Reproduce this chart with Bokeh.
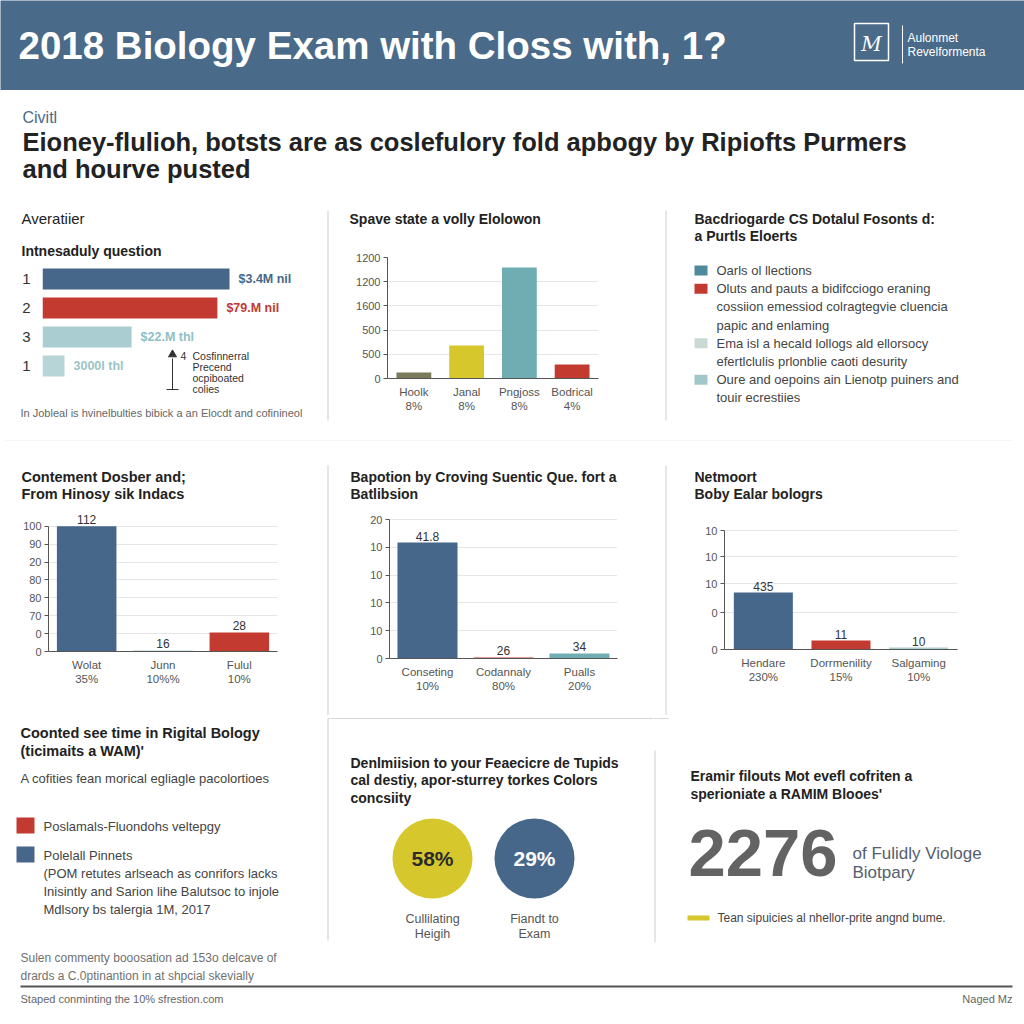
from bokeh.plotting import figure
from bokeh.layouts import column, row
from bokeh.models import Range1d, FactorRange, FixedTicker
from bokeh.core.properties import value
from bokeh.embed import file_html
from bokeh.resources import INLINE

# ---------------- data ----------------
header_title = "2018 Biology Exam with Closs with, 1?"
brand_lines = ["Aulonmet", "Revelformenta"]
kicker = "Civitl"
subtitle_lines = ["Eioney-flulioh, botsts are as coslefulory fold apbogy by Ripiofts Purmers",
                  "and hourve pusted"]

q_section = "Averatiier"
q_title = "Intnesaduly question"
q_ranks = ["1", "2", "3", "1"]
q_values = [34.0, 31.8, 16.2, 4.0]
q_value_labels = ["$3.4M nil", "$79.M nil", "$22.M thl", "3000l thl"]
q_note_number = "4"
q_note_lines = ["Cosfinnerral", "Precend", "ocpiboated", "colies"]
q_footnote = "In Jobleal is hvinelbulties bibick a an Elocdt and cofinineol"

s_title = "Spave state a volly Elolowon"
s_cats = ["Hoolk", "Janal", "Pngjoss", "Bodrical"]
s_pcts = ["8%", "8%", "8%", "4%"]
s_values = [62, 340, 1147, 145]
s_ticks = [0, 250, 500, 750, 1000, 1250]
s_tick_labels = ["0", "500", "500", "1600", "1200", "1200"]

lg_title = ["Bacdriogarde CS Dotalul Fosonts d:", "a Purtls Eloerts"]
lg_items = [["Oarls ol llections"],
            ["Oluts and pauts a bidifcciogo eraning", "cossiion emessiod colragtegvie cluencia",
             "papic and enlaming"],
            ["Ema isl a hecald lollogs ald ellorsocy", "efertlclulis prlonblie caoti desurity"],
            ["Oure and oepoins ain Lienotp puiners and", "touir ecrestiies"]]

a_title = ["Contement Dosber and;", "From Hinosy sik Indacs"]
a_cats = ["Wolat", "Junn", "Fulul"]
a_pcts = ["35%", "10%%", "10%"]
a_values = [112, 1.0, 17]
a_value_labels = ["112", "16", "28"]
a_ticks = [0, 16, 32, 48, 64, 80, 96, 112]
a_tick_labels = ["0", "0", "70", "80", "80", "20", "90", "100"]

b_title = ["Bapotion by Croving Suentic Que. fort a", "Batlibsion"]
b_cats = ["Conseting", "Codannaly", "Pualls"]
b_pcts = ["10%", "80%", "20%"]
b_values = [41.7, 0.4, 1.8]
b_value_labels = ["41.8", "26", "34"]
b_ticks = [0, 10, 20, 30, 40, 50]
b_tick_labels = ["0", "10", "10", "10", "10", "20"]

c_title = ["Netmoort", "Boby Ealar bologrs"]
c_cats = ["Hendare", "Dorrmenility", "Salgaming"]
c_pcts = ["230%", "15%", "10%"]
c_values = [5.7, 0.9, 0.2]
c_value_labels = ["435", "11", "10"]
c_ticks = [0, 3.7, 6.6, 9.3, 11.9]
c_tick_labels = ["0", "0", "10", "10", "10"]

r_title = ["Coonted see time in Rigital Bology", "(ticimaits a WAM)'"]
r_intro = "A cofities fean morical egliagle pacolortioes"
r_items = [["Poslamals-Fluondohs veltepgy"],
           ["Polelall Pinnets", "(POM retutes arlseach as conrifors lacks",
            "Inisintly and Sarion lihe Balutsoc to injole", "Mdlsory bs talergia 1M, 2017"]]

k_title = ["Denlmiision to your Feaecicre de Tupids", "cal destiy, apor-sturrey torkes Colors",
           "concsiity"]
k_values = ["58%", "29%"]
k_labels = [["Cullilating", "Heigih"], ["Fiandt to", "Exam"]]

n_title = ["Eramir filouts Mot evefl cofriten a", "sperioniate a RAMIM Blooes'"]
n_value = "2276"
n_caption = ["of Fulidly Viologe", "Biotpary"]
n_note = "Tean sipuicies al nhellor-prite angnd bume."

f_notes = ["Sulen commenty booosation ad 153o delcave of",
           "drards a C.0ptinantion in at shpcial skevially"]
f_source = "Staped conminting the 10% sfrestion.com"
f_right = "Naged Mz"

# ---------------- styles ----------------
FONT = "Liberation Sans"
BAND = "#4a6a89"
BLUE = "#46678a"
RED = "#c23a30"
YELLOW = "#d6c82c"
TEAL = "#70adb2"
LTEAL = "#a9cdd0"
OLIVE = "#7a7a5c"
SEP = "#d6d6d6"
DARK = "#222222"
GRAY = "#555555"


def canvas(x0, y0, w, h, bg="white"):
    p = figure(width=w, height=h, x_range=Range1d(x0, x0 + w), y_range=Range1d(y0 + h, y0),
               min_border=0, x_axis_location=None, y_axis_location=None,
               toolbar_location=None, output_backend="svg")
    p.frame_align = False
    p.outline_line_color = None
    p.background_fill_color = bg
    p.border_fill_color = bg
    p.grid.visible = False
    return p


def txt(p, x, y, s, size=13, color="#333333", bold=False, align="left",
        baseline="middle", font=FONT, italic=False):
    style = "bold" if bold else "normal"
    if italic:
        style = "bold italic" if bold else "italic"
    p.text(x=[x], y=[y], text=[s], text_font=value(font), text_font_size=f"{size}px",
           text_color=color, text_font_style=style, text_align=align, text_baseline=baseline)


def seg(p, x0, y0, x1, y1, color=SEP, width=1.2):
    p.segment(x0=[x0], y0=[y0], x1=[x1], y1=[y1], line_color=color, line_width=width)


def style_axes(p, ticks, tick_labels):
    tk = FixedTicker(ticks=ticks)
    ya = p.yaxis[0]
    ya.ticker = tk
    p.ygrid[0].ticker = tk
    ya.major_label_overrides = dict(zip(ticks, tick_labels))
    ya.bounds = (0, ticks[-1])
    ya.axis_line_color = GRAY
    ya.major_tick_line_color = GRAY
    ya.major_tick_in = 0
    ya.major_tick_out = 4
    ya.minor_tick_line_color = None
    ya.major_label_text_font = FONT
    ya.major_label_text_font_size = "11px"
    ya.major_label_text_color = GRAY
    ya.major_label_standoff = 3
    xa = p.xaxis[0]
    xa.axis_line_color = GRAY
    xa.major_tick_line_color = None
    xa.major_tick_in = 0
    xa.major_tick_out = 0
    xa.major_label_text_font = FONT
    xa.major_label_text_font_size = "11.5px"
    xa.major_label_text_color = GRAY
    xa.major_label_standoff = 7
    p.xgrid.visible = False
    p.ygrid.grid_line_color = "#e6e6e6"
    p.outline_line_color = None


def bar_chart(x0, y0, w, h, frame, cats, pcts, vals, colors, ticks, tick_labels,
              y_end, bar_w, value_labels=None):
    fx0, fy0, fx1, fy1 = frame
    factors = [f"{c}\n{q}" for c, q in zip(cats, pcts)]
    p = figure(width=w, height=h, x_range=FactorRange(factors=factors), y_range=Range1d(0, y_end),
               min_border_left=fx0 - x0, min_border_right=x0 + w - fx1,
               min_border_top=fy0 - y0, min_border_bottom=y0 + h - fy1,
               toolbar_location=None, output_backend="svg")
    p.frame_align = False
    p.vbar(x=factors, top=vals, width=bar_w, fill_color=colors, line_color=None)
    if value_labels is not None:
        p.text(x=factors, y=vals, text=value_labels, text_align="center", text_baseline="bottom",
               y_offset=-2, text_font=value(FONT), text_font_size="12px", text_color="#333333")
    style_axes(p, ticks, tick_labels)
    return p


# ---------------- header ----------------
hdr = canvas(0, 0, 1024, 90, bg=BAND)
txt(hdr, 18, 45, header_title, size=38.5, color="white", bold=True)
hdr.rect(x=[871], y=[41.5], width=34, height=37, fill_color=None, line_color="white", line_width=1.5)
txt(hdr, 871, 43, "M", size=20, color="white", italic=True, align="center", font="DejaVu Serif")
seg(hdr, 902, 25, 902, 63, color="white", width=1)
for i, s in enumerate(brand_lines):
    txt(hdr, 907, 37 + 14 * i, s, size=12, color="white")

sub = canvas(0, 90, 1024, 110)
txt(sub, 22, 117, kicker, size=16, color=BAND)
for i, s in enumerate(subtitle_lines):
    txt(sub, 22, 141 + 27 * i, s, size=25.5, color=DARK, bold=True)

# ---------------- row 1 ----------------
l1a = canvas(0, 200, 326, 62)
txt(l1a, 21, 218, q_section, size=15, color=DARK)
txt(l1a, 21, 250, q_title, size=14, color=DARK, bold=True)

HX0, HPX = 42, 5.5            # bar origin (px) and px per value
HY0, HROW = 278.5, 29         # first row centre (px) and row step (px)
hb = figure(width=326, height=138, x_range=Range1d(0, (326 - HX0) / HPX),
            y_range=Range1d(1 + (400 - HY0) / HROW, 1 - (HY0 - 262) / HROW),
            min_border_left=HX0, min_border_right=0, min_border_top=0, min_border_bottom=0,
            x_axis_location=None, toolbar_location=None, output_backend="svg")
hb.frame_align = False
q_pos = list(range(1, len(q_values) + 1))
q_colors = [BLUE, RED, LTEAL, "#b7d4d6"]
q_text_colors = [BLUE, RED, "#8fbfc3", "#9cc3c6"]
hb.hbar(y=q_pos, right=q_values, height=0.72, fill_color=q_colors, line_color=None)
hb.text(x=q_values, y=q_pos, text=q_value_labels, x_offset=9, text_baseline="middle",
        text_font=value(FONT), text_font_size="12.5px", text_font_style="bold",
        text_color=q_text_colors)
ya = hb.yaxis[0]
ya.ticker = FixedTicker(ticks=q_pos)
ya.major_label_overrides = dict(zip(q_pos, q_ranks))
ya.axis_line_color = None
ya.major_tick_line_color = None
ya.minor_tick_line_color = None
ya.major_tick_out = 0
ya.major_tick_in = 0
ya.major_label_standoff = 12
ya.major_label_text_font = FONT
ya.major_label_text_font_size = "15px"
ya.major_label_text_color = "#333333"
hb.grid.visible = False
hb.outline_line_color = None


def HX(px):
    return (px - HX0) / HPX


def HY(py):
    return 1 + (py - HY0) / HROW


hb.scatter(x=[HX(172)], y=[HY(354)], marker="triangle", size=8, color="#333333")
hb.segment(x0=[HX(172), HX(166)], y0=[HY(358), HY(389)], x1=[HX(172), HX(178)], y1=[HY(389), HY(389)],
           line_color="#333333", line_width=1)
hb.text(x=[HX(180)], y=[HY(355)], text=[q_note_number], text_baseline="middle",
        text_font=value(FONT), text_font_size="10.5px", text_color="#333333")
hb.text(x=[HX(192)] * len(q_note_lines), y=[HY(355 + 11 * i) for i in range(len(q_note_lines))],
        text=q_note_lines, text_baseline="middle", text_font=value(FONT), text_font_size="10.5px",
        text_color="#333333")

l1c = canvas(0, 400, 326, 33)
txt(l1c, 20, 412, q_footnote, size=11, color="#666666")
left1 = column(l1a, hb, l1c)

m1a = canvas(330, 200, 334, 45)
txt(m1a, 349, 218, s_title, size=14, color=DARK, bold=True)
m1b = bar_chart(330, 245, 334, 170, (387, 257, 598, 378), s_cats, s_pcts, s_values,
                [OLIVE, YELLOW, TEAL, RED], s_ticks, s_tick_labels, y_end=1250, bar_w=0.66)
m1c = canvas(330, 415, 334, 18)
mid1 = column(m1a, m1b, m1c)

sep1a = canvas(326, 200, 4, 233)
seg(sep1a, 327.5, 210, 327.5, 420)
sep1b = canvas(664, 200, 4, 233)
seg(sep1b, 665.5, 210, 665.5, 420)

r1 = canvas(668, 200, 356, 233)
for i, s in enumerate(lg_title):
    txt(r1, 694, 218 + 17 * i, s, size=14, color=DARK, bold=True)
lg_colors = ["#4e8a9b", RED, "#c9d9d6", "#a2c7c8"]
yy = 270
for col, lines in zip(lg_colors, lg_items):
    r1.rect(x=[700.5], y=[yy], width=13, height=10, fill_color=col, line_color=None)
    for s in lines:
        txt(r1, 716, yy, s, size=13, color="#444444")
        yy += 18.2
row1 = row(left1, sep1a, mid1, sep1b, r1)

hsep = canvas(0, 433, 1024, 8)
seg(hsep, 5, 437, 1012, 437, width=1.5)

# ---------------- row 2 ----------------
l2a = canvas(0, 441, 326, 69)
for i, s in enumerate(a_title):
    txt(l2a, 21, 476 + 17 * i, s, size=14.5, color=DARK, bold=True)
l2b = bar_chart(0, 510, 326, 185, (48, 510, 277, 651), a_cats, a_pcts, a_values,
                [BLUE, LTEAL, RED], a_ticks, a_tick_labels, y_end=141 / (17.9 / 16), bar_w=0.78,
                value_labels=a_value_labels)
l2c = canvas(0, 695, 326, 20)
left2 = column(l2a, l2b, l2c)

m2a = canvas(330, 441, 334, 64)
for i, s in enumerate(b_title):
    txt(m2a, 350, 476 + 17 * i, s, size=14, color=DARK, bold=True)
m2b = bar_chart(330, 505, 334, 195, (389, 505, 617, 658), b_cats, b_pcts, b_values,
                [BLUE, RED, TEAL], b_ticks, b_tick_labels, y_end=153 / 2.78, bar_w=0.79,
                value_labels=b_value_labels)
m2c = canvas(330, 700, 334, 15)
mid2 = column(m2a, m2b, m2c)

r2a = canvas(668, 441, 356, 74)
for i, s in enumerate(c_title):
    txt(r2a, 694, 476 + 17 * i, s, size=14, color=DARK, bold=True)
r2b = bar_chart(668, 515, 356, 185, (724, 515, 957, 649), c_cats, c_pcts, c_values,
                [BLUE, RED, LTEAL], c_ticks, c_tick_labels, y_end=13.4, bar_w=0.76,
                value_labels=c_value_labels)
r2c = canvas(668, 700, 356, 15)
right2 = column(r2a, r2b, r2c)

sep2a = canvas(326, 441, 4, 274)
seg(sep2a, 327.5, 465, 327.5, 715)
sep2b = canvas(664, 441, 4, 274)
seg(sep2b, 665.5, 465, 665.5, 715)
row2 = row(left2, sep2a, mid2, sep2b, right2)

# ---------------- row 3 ----------------
l3 = canvas(0, 715, 326, 231)
for i, s in enumerate(r_title):
    txt(l3, 20, 732 + 18 * i, s, size=14.5, color=DARK, bold=True)
txt(l3, 20, 778, r_intro, size=13, color="#444444")
r_colors = [RED, BLUE]
yy = 826
for col, lines in zip(r_colors, r_items):
    l3.rect(x=[25], y=[yy - 1], width=18, height=16, fill_color=col, line_color=None)
    for s in lines:
        txt(l3, 43, yy, s, size=13, color="#444444")
        yy += 18
    yy += 11

sep3a = canvas(326, 715, 4, 231)
seg(sep3a, 327.5, 718, 327.5, 940)
seg(sep3a, 327.5, 718, 330, 718)

m3 = canvas(330, 715, 323, 231)
seg(m3, 330, 718, 653, 718)
for i, s in enumerate(k_title):
    txt(m3, 350, 762 + 17.5 * i, s, size=14, color=DARK, bold=True)
k_x = [432, 534]
m3.circle(x=k_x, y=[858, 858], radius=40, fill_color=[YELLOW, BLUE], line_color=None)
m3.text(x=k_x, y=[858, 858], text=k_values, text_align="center", text_baseline="middle",
        text_font=value(FONT), text_font_size="21px", text_font_style="bold",
        text_color=["#2b2b2b", "white"])
for x, lines in zip(k_x, k_labels):
    for j, s in enumerate(lines):
        txt(m3, x, 918 + 15 * j, s, size=12.5, color=GRAY, align="center")

sep3b = canvas(653, 715, 4, 231)
seg(sep3b, 654.5, 750, 654.5, 942)
seg(sep3b, 653, 718, 657, 718)

r3 = canvas(657, 715, 367, 231)
seg(r3, 657, 718, 668, 718)
for i, s in enumerate(n_title):
    txt(r3, 690, 775 + 18 * i, s, size=14, color=DARK, bold=True)
txt(r3, 688, 852, n_value, size=67, color="#636363", bold=True)
for i, s in enumerate(n_caption):
    txt(r3, 852, 853 + 19 * i, s, size=17, color="#55606e")
r3.rect(x=[698], y=[917.5], width=22, height=5, fill_color=YELLOW, line_color=None)
txt(r3, 717, 917, n_note, size=12, color="#444444")
row3 = row(l3, sep3a, m3, sep3b, r3)

# ---------------- footer ----------------
ft = canvas(0, 946, 1024, 78)
for i, s in enumerate(f_notes):
    txt(ft, 20, 957 + 18 * i, s, size=12, color="#707070")
seg(ft, 20, 986, 1012, 986, color="#555555", width=2)
txt(ft, 20, 998, f_source, size=11, color="#666666")
txt(ft, 1012, 998, f_right, size=11, color="#666666", align="right")

root = column(hdr, sub, row1, hsep, row2, row3, ft)
open("out.html", "w").write(file_html(root, INLINE))
